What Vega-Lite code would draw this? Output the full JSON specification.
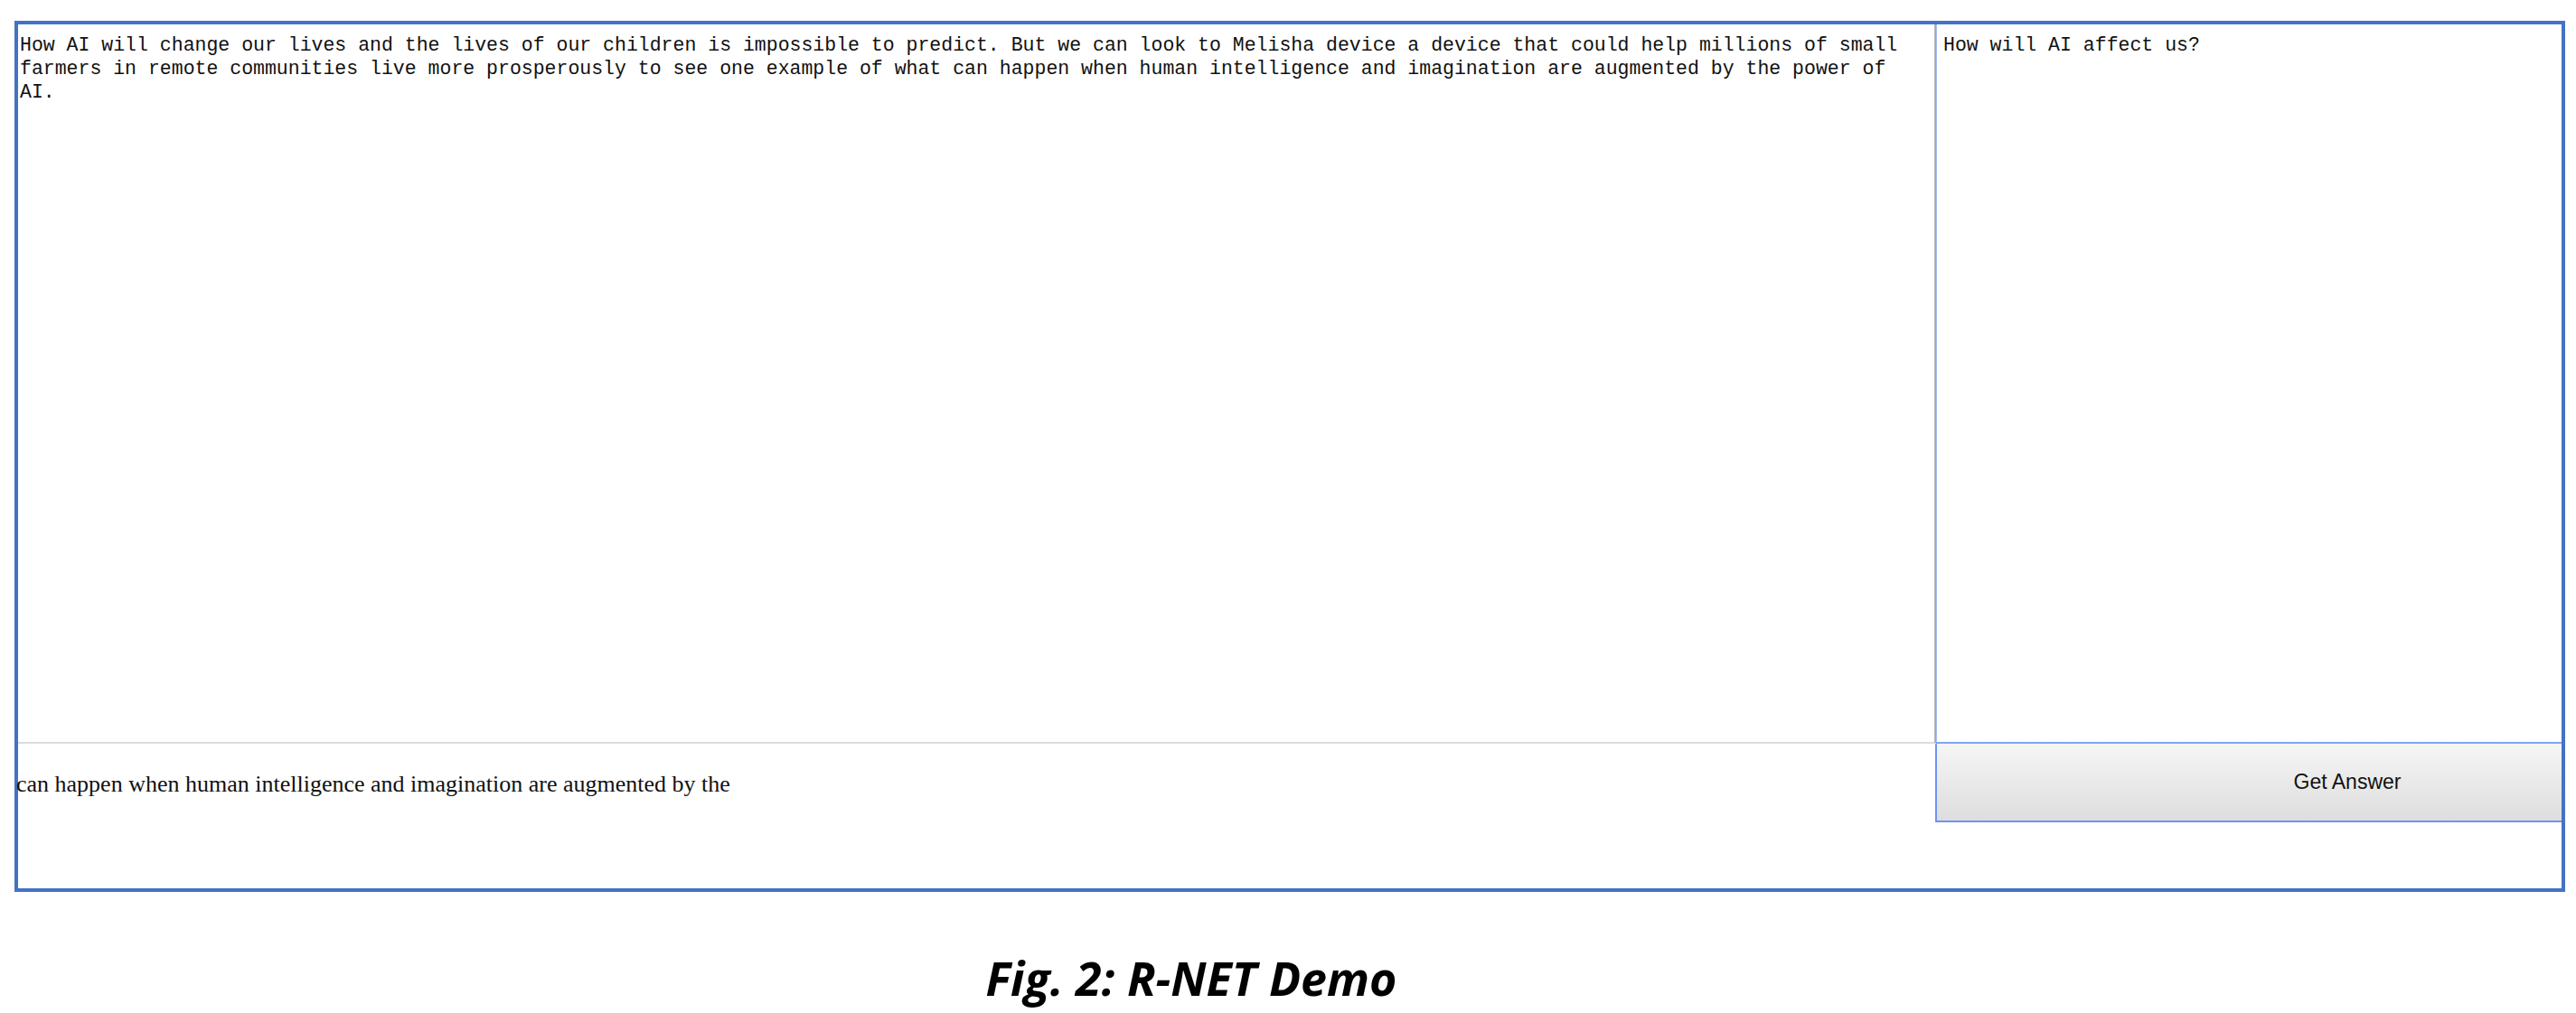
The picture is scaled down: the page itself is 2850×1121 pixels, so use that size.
{
  "$schema": "https://vega.github.io/schema/vega-lite/v6.json",
  "description": "R-NET demo screenshot",
  "width": 2850,
  "height": 1121,
  "autosize": "none",
  "padding": 0,
  "background": "white",
  "config": {"view": {"stroke": null}},
  "datasets": {
    "boxes": [
      {"box": "question", "x": 2142, "x2": 2836, "y": 25, "y2": 822},
      {"box": "button", "x": 2142, "x2": 2836, "y": 822, "y2": 909}
    ],
    "passage": [
      {"line": 1, "x": 22, "y": 56, "text": "How AI will change our lives  and the lives of our children is impossible to predict. But we can look to Melisha device  a device that could help millions of small"},
      {"line": 2, "x": 22, "y": 82, "text": "farmers in remote communities live more prosperously  to see one example of what can happen when human intelligence and imagination are augmented by the power of"},
      {"line": 3, "x": 22, "y": 108, "text": "AI."}
    ]
  },
  "encoding": {
    "x": {"type": "quantitative", "scale": {"domain": [0, 2850], "nice": false, "zero": false}, "axis": null},
    "y": {"type": "quantitative", "scale": {"domain": [0, 1121], "nice": false, "zero": false, "reverse": true}, "axis": null}
  },
  "layer": [
    {
      "data": {"name": "boxes"},
      "transform": [{"filter": "datum.box == 'button'"}],
      "mark": {
        "type": "rect",
        "fill": {"gradient": "linear", "x1": 0, "y1": 0, "x2": 0, "y2": 1, "stops": [{"offset": 0, "color": "#f6f6f6"}, {"offset": 1, "color": "#dddddd"}]},
        "stroke": "#6f94f4",
        "strokeWidth": 2
      },
      "encoding": {"x": {"field": "x"}, "x2": {"field": "x2"}, "y": {"field": "y"}, "y2": {"field": "y2"}}
    },
    {
      "data": {"name": "boxes"},
      "transform": [{"filter": "datum.box == 'question'"}],
      "mark": {"type": "rect", "fill": null, "stroke": "#8aa6f5", "strokeWidth": 1.5},
      "encoding": {"x": {"field": "x"}, "x2": {"field": "x2"}, "y": {"field": "y"}, "y2": {"field": "y2"}}
    },
    {
      "data": {"values": [{"x": 18, "x2": 2142, "y": 822}]},
      "mark": {"type": "rule", "stroke": "#dcdcdc", "strokeWidth": 2},
      "encoding": {"x": {"field": "x"}, "x2": {"field": "x2"}, "y": {"field": "y"}}
    },
    {
      "data": {"values": [{"x": 2141, "y": 25, "y2": 822}]},
      "mark": {"type": "rule", "stroke": "#a0a0a0", "strokeWidth": 1.5},
      "encoding": {"x": {"field": "x"}, "y": {"field": "y"}, "y2": {"field": "y2"}}
    },
    {
      "data": {"values": [{"x": 18, "x2": 2836, "y": 25, "y2": 985}]},
      "mark": {"type": "rect", "fill": null, "stroke": "#4472c4", "strokeWidth": 4},
      "encoding": {"x": {"field": "x"}, "x2": {"field": "x2"}, "y": {"field": "y"}, "y2": {"field": "y2"}}
    },
    {
      "data": {"name": "passage"},
      "mark": {"type": "text", "align": "left", "baseline": "alphabetic", "font": "Liberation Mono", "fontSize": 21.5, "color": "#111"},
      "encoding": {"x": {"field": "x"}, "y": {"field": "y"}, "text": {"field": "text"}}
    },
    {
      "data": {"values": [{"x": 2150, "y": 56, "text": "How will AI affect us?"}]},
      "mark": {"type": "text", "align": "left", "baseline": "alphabetic", "font": "Liberation Mono", "fontSize": 21.5, "color": "#111"},
      "encoding": {"x": {"field": "x"}, "y": {"field": "y"}, "text": {"field": "text"}}
    },
    {
      "data": {"values": [{"x": 18, "y": 876, "text": "can happen when human intelligence and imagination are augmented by the"}]},
      "mark": {"type": "text", "align": "left", "baseline": "alphabetic", "font": "Liberation Serif", "fontSize": 26, "color": "#111"},
      "encoding": {"x": {"field": "x"}, "y": {"field": "y"}, "text": {"field": "text"}}
    },
    {
      "data": {"values": [{"x": 2597, "y": 866, "text": "Get Answer"}]},
      "mark": {"type": "text", "align": "center", "baseline": "middle", "font": "Liberation Sans", "fontSize": 23, "color": "#111"},
      "encoding": {"x": {"field": "x"}, "y": {"field": "y"}, "text": {"field": "text"}}
    },
    {
      "data": {"values": [{"x": 1318, "y": 1086, "text": "Fig. 2: R-NET Demo"}]},
      "mark": {"type": "text", "align": "center", "baseline": "middle", "font": "Open Sans", "fontSize": 52, "fontWeight": "bold", "fontStyle": "italic", "color": "#000"},
      "encoding": {"x": {"field": "x"}, "y": {"field": "y"}, "text": {"field": "text"}}
    }
  ]
}
